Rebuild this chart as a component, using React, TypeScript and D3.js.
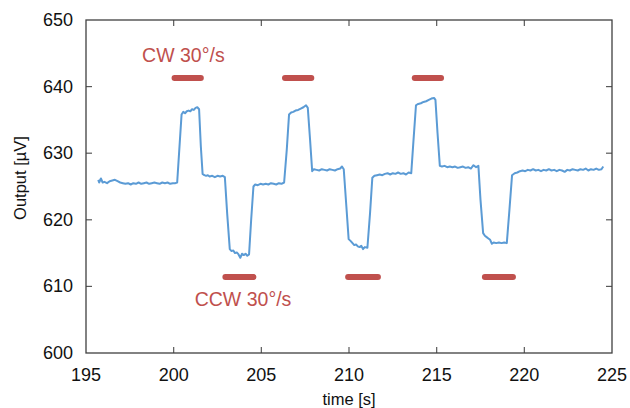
import * as d3 from "d3";
import { useEffect, useRef } from "react";

const W = 630;
const H = 408;
const margin = { top: 20, right: 18, bottom: 55, left: 86 };

const xTicks = [195, 200, 205, 210, 215, 220, 225];
const yTicks = [600, 610, 620, 630, 640, 650];

// [time s, output µV]
const signal: [number, number][] = [
  [195.7, 626.0], [195.75, 625.6], [195.85, 626.2], [195.95, 625.6], [196.05, 625.7],
  [196.2, 625.5], [196.35, 625.8], [196.5, 625.9], [196.65, 626.0], [196.8, 625.8],
  [196.95, 625.6], [197.1, 625.5], [197.25, 625.4], [197.4, 625.5], [197.55, 625.3],
  [197.7, 625.5], [197.85, 625.4], [198.0, 625.6], [198.15, 625.4], [198.3, 625.5],
  [198.45, 625.6], [198.6, 625.4], [198.75, 625.5], [198.9, 625.6], [199.05, 625.5],
  [199.2, 625.4], [199.35, 625.6], [199.5, 625.5], [199.65, 625.6], [199.8, 625.4],
  [199.95, 625.5], [200.1, 625.5], [200.2, 625.6],
  [200.32, 630.5], [200.45, 635.8], [200.55, 636.2], [200.65, 636.0], [200.75, 636.3],
  [200.85, 636.4], [200.95, 636.3], [201.05, 636.6], [201.15, 636.5], [201.25, 636.8],
  [201.35, 636.9], [201.45, 636.6],
  [201.55, 631.0], [201.65, 626.9], [201.75, 626.7], [201.85, 626.6], [201.95, 626.7],
  [202.05, 626.5], [202.2, 626.6], [202.35, 626.4], [202.5, 626.6], [202.65, 626.5],
  [202.8, 626.6], [202.92, 626.4],
  [203.05, 621.0], [203.2, 615.6], [203.3, 615.3], [203.4, 615.4], [203.5, 615.0],
  [203.6, 615.1], [203.7, 614.8], [203.8, 614.3], [203.9, 614.9], [204.0, 614.7],
  [204.1, 614.9], [204.2, 614.6], [204.3, 614.8],
  [204.42, 620.0], [204.55, 625.0], [204.65, 625.3], [204.8, 625.2], [204.95, 625.4],
  [205.1, 625.3], [205.25, 625.4], [205.4, 625.3], [205.55, 625.5], [205.7, 625.4],
  [205.85, 625.3], [206.0, 625.5], [206.15, 625.4], [206.3, 625.6],
  [206.45, 630.5], [206.58, 635.8], [206.7, 636.1], [206.82, 636.2], [206.95, 636.4],
  [207.1, 636.5], [207.25, 636.7], [207.4, 636.9], [207.55, 637.2], [207.65, 636.8],
  [207.78, 632.0], [207.9, 627.3], [208.0, 627.6], [208.15, 627.5], [208.3, 627.4],
  [208.45, 627.6], [208.6, 627.5], [208.75, 627.4], [208.9, 627.6], [209.05, 627.5],
  [209.2, 627.4], [209.35, 627.6], [209.5, 627.7], [209.6, 628.0], [209.7, 627.6],
  [209.85, 622.0], [209.98, 617.1], [210.1, 616.8], [210.2, 616.5], [210.3, 616.2],
  [210.4, 616.3], [210.5, 616.0], [210.6, 615.9], [210.7, 616.1], [210.8, 615.6],
  [210.9, 615.9], [211.05, 615.8],
  [211.2, 621.0], [211.33, 626.3], [211.45, 626.6], [211.6, 626.7], [211.75, 626.8],
  [211.9, 626.7], [212.05, 626.9], [212.2, 627.0], [212.35, 626.8], [212.5, 627.0],
  [212.65, 626.9], [212.8, 627.1], [212.95, 626.9], [213.1, 627.0], [213.25, 626.8],
  [213.4, 627.1], [213.55, 627.0],
  [213.68, 632.0], [213.82, 637.2], [213.95, 637.4], [214.1, 637.5], [214.25, 637.7],
  [214.4, 637.8], [214.55, 638.0], [214.7, 638.2], [214.85, 638.3], [214.93, 638.0],
  [215.05, 633.0], [215.18, 628.1], [215.3, 628.0], [215.45, 628.1], [215.6, 627.9],
  [215.75, 628.0], [215.9, 627.9], [216.05, 628.0], [216.2, 627.8], [216.35, 627.9],
  [216.5, 628.0], [216.65, 627.8], [216.8, 627.9], [216.95, 627.7], [217.1, 628.2],
  [217.25, 627.9], [217.38, 628.1],
  [217.5, 623.0], [217.65, 618.0], [217.75, 617.6], [217.85, 617.4], [217.95, 617.2],
  [218.05, 617.0], [218.15, 616.4], [218.25, 616.6], [218.4, 616.5], [218.55, 616.6],
  [218.7, 616.5], [218.85, 616.6], [219.0, 616.5],
  [219.15, 621.5], [219.3, 626.7], [219.45, 627.0], [219.6, 627.1], [219.75, 627.3],
  [219.9, 627.4], [220.05, 627.3], [220.2, 627.5], [220.35, 627.4], [220.5, 627.6],
  [220.65, 627.4], [220.8, 627.5], [220.95, 627.3], [221.1, 627.5], [221.25, 627.4],
  [221.4, 627.6], [221.55, 627.4], [221.7, 627.5], [221.85, 627.3], [222.0, 627.5],
  [222.15, 627.4], [222.3, 627.2], [222.45, 627.5], [222.6, 627.4], [222.75, 627.6],
  [222.9, 627.5], [223.05, 627.4], [223.2, 627.6], [223.35, 627.5], [223.5, 627.7],
  [223.65, 627.4], [223.8, 627.6], [223.95, 627.5], [224.1, 627.7], [224.25, 627.5],
  [224.4, 627.6], [224.5, 628.0],
];

// rotation intervals [start, end, level]
const cwBars: [number, number, number][] = [
  [200.05, 201.55, 641.3],
  [206.35, 207.85, 641.3],
  [213.75, 215.25, 641.3],
];
const ccwBars: [number, number, number][] = [
  [202.95, 204.55, 611.4],
  [209.95, 211.65, 611.4],
  [217.75, 219.35, 611.4],
];

// [text, time, level]
const labels: [string, number, number][] = [
  ["CW 30°/s", 198.2, 644.8],
  ["CCW 30°/s", 201.2, 608.1],
];

const FONT = "'Liberation Sans', Arial, sans-serif";
const RED = "#c0504d";

const App = () => {
  const svgRef = useRef<SVGSVGElement>(null);

  useEffect(() => {
    const svg = d3.select(svgRef.current);
    svg.selectAll("*").remove();

    const x = d3.scaleLinear().domain([195, 225]).range([margin.left, W - margin.right]);
    const y = d3.scaleLinear().domain([600, 650]).range([H - margin.bottom, margin.top]);

    const [x0, x1] = x.range();
    const [y0, y1] = y.range();

    // inward ticks on all four sides
    const tickCol = "#595959";
    const inner = svg.append("g").attr("stroke", tickCol).attr("stroke-width", 1.2);
    xTicks.slice(1, -1).forEach((t) => {
      inner.append("line").attr("x1", x(t)).attr("x2", x(t)).attr("y1", y0).attr("y2", y0 - 6);
      inner.append("line").attr("x1", x(t)).attr("x2", x(t)).attr("y1", y1).attr("y2", y1 + 6);
    });
    yTicks.slice(1, -1).forEach((v) => {
      inner.append("line").attr("x1", x0).attr("x2", x0 + 6).attr("y1", y(v)).attr("y2", y(v));
      inner.append("line").attr("x1", x1).attr("x2", x1 - 6).attr("y1", y(v)).attr("y2", y(v));
    });

    // frame
    svg
      .append("rect")
      .attr("x", x0)
      .attr("y", y1)
      .attr("width", x1 - x0)
      .attr("height", y0 - y1)
      .attr("fill", "none")
      .attr("stroke", "#404040")
      .attr("stroke-width", 1.3);

    // tick labels
    svg
      .append("g")
      .selectAll("text")
      .data(xTicks)
      .join("text")
      .attr("x", (d) => x(d))
      .attr("y", y0 + 22)
      .attr("text-anchor", "middle")
      .attr("dominant-baseline", "central")
      .attr("font-family", FONT)
      .attr("font-size", 18)
      .attr("fill", "#111")
      .text((d) => d);

    svg
      .append("g")
      .selectAll("text")
      .data(yTicks)
      .join("text")
      .attr("x", x0 - 13)
      .attr("y", (d) => y(d))
      .attr("text-anchor", "end")
      .attr("dominant-baseline", "central")
      .attr("font-family", FONT)
      .attr("font-size", 18)
      .attr("fill", "#111")
      .text((d) => d);

    // axis titles
    svg
      .append("text")
      .attr("x", (x0 + x1) / 2)
      .attr("y", H - 3)
      .attr("text-anchor", "middle")
      .attr("font-family", FONT)
      .attr("font-size", 16.5)
      .attr("fill", "#111")
      .text("time [s]");

    svg
      .append("text")
      .attr("transform", `translate(26, 178) rotate(-90)`)
      .attr("text-anchor", "middle")
      .attr("font-family", FONT)
      .attr("font-size", 16.5)
      .attr("fill", "#111")
      .text("Output [µV]");

    // signal
    const line = d3
      .line<[number, number]>()
      .x((d) => x(d[0]))
      .y((d) => y(d[1]));
    svg
      .append("path")
      .datum(signal)
      .attr("d", line)
      .attr("fill", "none")
      .attr("stroke", "#5b9bd5")
      .attr("stroke-width", 2)
      .attr("stroke-linejoin", "round");

    // rotation bars
    svg
      .append("g")
      .selectAll("line")
      .data([...cwBars, ...ccwBars])
      .join("line")
      .attr("x1", (d) => x(d[0]))
      .attr("x2", (d) => x(d[1]))
      .attr("y1", (d) => y(d[2]))
      .attr("y2", (d) => y(d[2]))
      .attr("stroke", RED)
      .attr("stroke-width", 6)
      .attr("stroke-linecap", "round");

    svg
      .append("g")
      .selectAll("text")
      .data(labels)
      .join("text")
      .attr("x", (d) => x(d[1]))
      .attr("y", (d) => y(d[2]))
      .attr("dominant-baseline", "central")
      .attr("font-family", FONT)
      .attr("font-size", 19.5)
      .attr("fill", RED)
      .text((d) => d[0]);
  }, []);

  return (
    <svg
      ref={svgRef}
      width={W}
      height={H}
      style={{ position: "absolute", left: 0, top: 0, background: "#fff" }}
    />
  );
};

export default App;
